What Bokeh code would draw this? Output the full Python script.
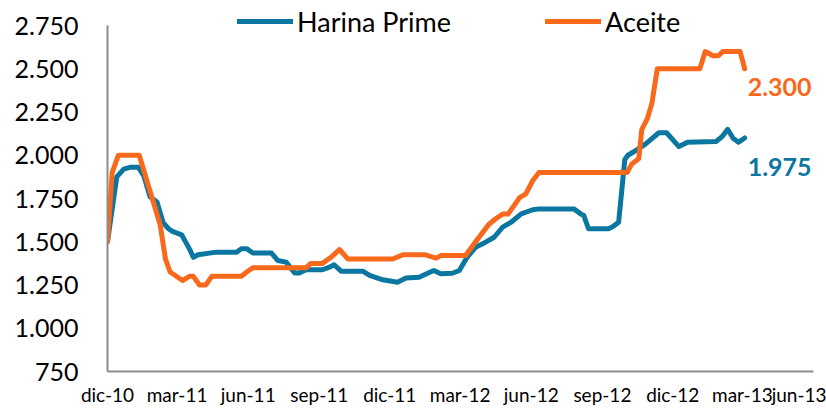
import pandas as pd
from bokeh.plotting import figure
from bokeh.models import Range1d, FixedTicker, Legend, LegendItem, Label
from bokeh.embed import file_html
from bokeh.resources import INLINE

# ---- data ----
harina_dates = ["2010-12-01", "2010-12-13", "2010-12-22", "2010-12-30", "2011-01-10", "2011-01-17",
                "2011-01-25", "2011-02-03", "2011-02-11", "2011-02-18", "2011-02-23", "2011-03-07",
                "2011-03-18", "2011-03-22", "2011-03-28", "2011-04-21", "2011-05-17", "2011-05-23",
                "2011-05-30", "2011-06-07", "2011-07-01", "2011-07-09", "2011-07-20", "2011-07-31",
                "2011-08-06", "2011-08-15", "2011-09-05", "2011-09-14", "2011-09-20", "2011-09-29",
                "2011-10-27", "2011-11-05", "2011-11-22", "2011-12-11", "2011-12-22", "2012-01-08",
                "2012-01-19", "2012-01-27", "2012-02-05", "2012-02-20", "2012-02-29", "2012-03-10",
                "2012-03-21", "2012-03-30", "2012-04-14", "2012-04-25", "2012-05-06", "2012-05-19",
                "2012-06-03", "2012-06-11", "2012-07-26", "2012-08-04", "2012-08-08", "2012-08-14",
                "2012-09-09", "2012-09-15", "2012-09-22", "2012-09-30", "2012-10-04", "2012-10-14",
                "2012-10-27", "2012-11-13", "2012-11-23", "2012-12-09", "2012-12-20", "2013-01-26",
                "2013-02-03", "2013-02-10", "2013-02-17", "2013-02-24", "2013-03-04"]
harina_vals = [1500, 1875, 1920, 1930, 1930, 1880,
               1760, 1730, 1610, 1575, 1560, 1540,
               1450, 1410, 1425, 1440, 1440, 1460,
               1460, 1435, 1435, 1392, 1382, 1320,
               1320, 1338, 1338, 1353, 1367, 1330,
               1330, 1305, 1280, 1266, 1290, 1295,
               1318, 1334, 1315, 1318, 1334, 1410,
               1468, 1488, 1526, 1584, 1613, 1661,
               1685, 1690, 1690, 1661, 1652, 1575,
               1575, 1589, 1613, 1975, 2000, 2027,
               2066, 2130, 2130, 2050, 2075, 2080,
               2108, 2150, 2098, 2075, 2100]

aceite_dates = ["2010-12-01", "2010-12-07", "2010-12-15", "2011-01-11", "2011-02-07", "2011-02-14",
                "2011-02-20", "2011-03-08", "2011-03-17", "2011-03-22", "2011-03-30", "2011-04-07",
                "2011-04-15", "2011-05-23", "2011-05-30", "2011-06-07", "2011-08-15", "2011-08-21",
                "2011-09-05", "2011-09-16", "2011-09-27", "2011-10-08", "2011-12-05", "2011-12-18",
                "2012-01-15", "2012-01-30", "2012-02-05", "2012-03-08", "2012-03-21", "2012-04-07",
                "2012-04-16", "2012-04-25", "2012-05-02", "2012-05-17", "2012-05-25", "2012-06-03",
                "2012-06-11", "2012-10-03", "2012-10-09", "2012-10-18", "2012-10-22", "2012-10-29",
                "2012-11-04", "2012-11-11", "2013-01-05", "2013-01-12", "2013-01-22", "2013-01-29",
                "2013-02-04", "2013-02-26", "2013-03-04"]
aceite_vals = [1500, 1900, 2000, 2000, 1600, 1400,
               1325, 1276, 1300, 1300, 1250, 1250,
               1300, 1300, 1325, 1350, 1350, 1375,
               1375, 1410, 1455, 1400, 1400, 1425,
               1425, 1405, 1420, 1420, 1500, 1600,
               1633, 1660, 1660, 1755, 1777, 1854,
               1900, 1900, 1950, 1980, 2150, 2210,
               2300, 2500, 2500, 2600, 2575, 2575,
               2600, 2600, 2500]

series_names = ["Harina Prime", "Aceite"]
end_labels = ["1.975", "2.300"]

x_tick_dates = ["2010-12-01", "2011-03-01", "2011-06-01", "2011-09-01", "2011-12-01", "2012-03-01",
                "2012-06-01", "2012-09-01", "2012-12-01", "2013-03-01", "2013-06-01"]
x_tick_labels = ["dic-10", "mar-11", "jun-11", "sep-11", "dic-11", "mar-12",
                 "jun-12", "sep-12", "dic-12", "mar-13", "jun-13"]
y_ticks = [750, 1000, 1250, 1500, 1750, 2000, 2250, 2500, 2750]
y_tick_labels = ["750", "1.000", "1.250", "1.500", "1.750", "2.000", "2.250", "2.500", "2.750"]

BLUE = "#0B77A1"
ORANGE = "#F8691C"
AXIS = "#8C8C8C"
FONT = "Lato"

# layout (pixels): plot area from y=25 (2.750) to y=371 (750); legend sits above it
TOP_PAD, AXIS_H = 25, 346
y_lo, y_hi = y_ticks[0], y_ticks[-1]
y_top = y_hi + (y_hi - y_lo) * TOP_PAD / AXIS_H


def ms(d):
    return float(pd.Timestamp(d).value // 10**6)


hx = pd.to_datetime(harina_dates)
ax = pd.to_datetime(aceite_dates)

p = figure(width=826, height=409, x_axis_type="datetime", output_backend="svg",
           toolbar_location=None, min_border_left=107, min_border_right=13,
           min_border_top=0, min_border_bottom=38)
p.x_range = Range1d(pd.Timestamp(x_tick_dates[0]), pd.Timestamp(x_tick_dates[-1]))
p.y_range = Range1d(y_lo, y_top)
p.outline_line_color = None
p.grid.visible = False
p.background_fill_color = "white"
p.border_fill_color = "white"

r1 = p.line(hx, harina_vals, line_color=BLUE, line_width=5, line_join="round", line_cap="round")
r2 = p.line(ax, aceite_vals, line_color=ORANGE, line_width=5, line_join="round", line_cap="round")

# axes
xt = [ms(d) for d in x_tick_dates]
p.xaxis.ticker = FixedTicker(ticks=xt)
p.xaxis.major_label_overrides = {t: l for t, l in zip(xt, x_tick_labels)}
p.yaxis.ticker = FixedTicker(ticks=y_ticks)
p.yaxis.major_label_overrides = {t: l for t, l in zip(y_ticks, y_tick_labels)}
p.yaxis.bounds = (y_lo, y_hi)
for a in (p.xaxis, p.yaxis):
    a.axis_line_color = AXIS
    a.axis_line_width = 2
    a.major_tick_line_color = None
    a.minor_tick_line_color = None
    a.major_tick_out = 0
    a.major_tick_in = 0
    a.major_label_text_font = FONT
    a.major_label_text_color = "#000000"
p.xaxis.major_label_text_font_size = "19px"
p.xaxis.major_label_standoff = 11
p.yaxis.major_label_text_font_size = "25px"
p.yaxis.major_label_standoff = 29

legend = Legend(items=[LegendItem(label=series_names[0], renderers=[r1]),
                       LegendItem(label=series_names[1], renderers=[r2])],
                orientation="horizontal", location=(130, 333),
                padding=0, margin=0, spacing=94, label_standoff=4,
                glyph_width=56, glyph_height=34, label_height=34,
                border_line_color=None, background_fill_alpha=0,
                label_text_font=FONT, label_text_font_size="27px", label_text_color="#000000")
p.add_layout(legend, "center")

p.add_layout(Label(x=ax[-1], y=aceite_vals[-1], x_offset=3, y_offset=-18, text=end_labels[1],
                   text_font=FONT, text_font_size="25px", text_font_style="bold",
                   text_color=ORANGE, text_baseline="middle"))
p.add_layout(Label(x=hx[-1], y=harina_vals[-1], x_offset=3, y_offset=-29, text=end_labels[0],
                   text_font=FONT, text_font_size="25px", text_font_style="bold",
                   text_color=BLUE, text_baseline="middle"))

open("out.html", "w").write(file_html(p, INLINE))
